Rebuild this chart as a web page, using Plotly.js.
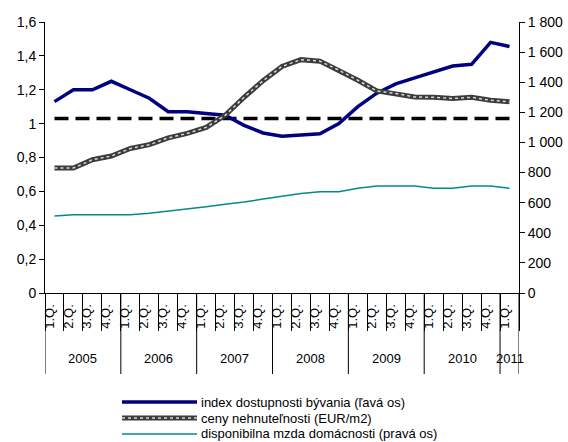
<!DOCTYPE html>
<html>
<head>
<meta charset="utf-8">
<script src="https://cdn.plot.ly/plotly-3.0.1.min.js"></script>
<style>html,body{margin:0;padding:0;background:#fff;}#chart{width:568px;height:442px;}</style>
</head>
<body>
<div id="chart"></div>
<script>
const years = ["2005","2005","2005","2005","2006","2006","2006","2006","2007","2007","2007","2007","2008","2008","2008","2008","2009","2009","2009","2009","2010","2010","2010","2010","2011"];
const quarters = ["1.Q.","2.Q.","3.Q.","4.Q.","1.Q.","2.Q.","3.Q.","4.Q.","1.Q.","2.Q.","3.Q.","4.Q.","1.Q.","2.Q.","3.Q.","4.Q.","1.Q.","2.Q.","3.Q.","4.Q.","1.Q.","2.Q.","3.Q.","4.Q.","1.Q."];
const affordabilityIndex = [1.13,1.20,1.20,1.25,1.20,1.15,1.07,1.07,1.06,1.05,0.99,0.945,0.925,0.93,0.94,1.00,1.10,1.18,1.235,1.27,1.305,1.34,1.35,1.48,1.455];
const referenceLevel = [1.03,1.03,1.03,1.03,1.03,1.03,1.03,1.03,1.03,1.03,1.03,1.03,1.03,1.03,1.03,1.03,1.03,1.03,1.03,1.03,1.03,1.03,1.03,1.03,1.03];
const propertyPrices = [830,830,885,910,960,985,1030,1060,1100,1180,1300,1410,1505,1550,1540,1480,1413,1342,1325,1302,1300,1292,1300,1280,1270];
const disposableWage = [511,520,520,520,520,530,544,555,573,590,604,624,644,661,672,672,695,710,710,710,695,695,710,710,695];
const names = ["index dostupnosti bývania (ľavá os)","ceny nehnuteľnosti (EUR/m2)","disponibilna mzda domácnosti (pravá os)"];

const xi = quarters.map((q, i) => i);
const n = quarters.length;

// group boundaries and centres from the years array
const boundaries = [-0.5];
const groups = [];
let start = 0;
for (let i = 1; i <= n; i++) {
  if (i === n || years[i] !== years[i - 1]) {
    groups.push({label: years[start], centre: (start + i - 1) / 2});
    boundaries.push(i - 0.5);
    start = i;
  }
}
const quarterBounds = xi.map(i => i - 0.5).concat([n - 0.5]);

const traces = [
  {x: xi, y: referenceLevel, type: "scatter", mode: "lines", showlegend: false, hoverinfo: "skip",
   line: {color: "#000000", width: 3.5, dash: "14px,7px"}, yaxis: "y"},
  {x: xi, y: propertyPrices, type: "scatter", mode: "lines", name: names[1], yaxis: "y2",
   line: {color: "#3c3c3c", width: 5}},
  {x: xi, y: propertyPrices, type: "scatter", mode: "lines", showlegend: false, hoverinfo: "skip", yaxis: "y2",
   line: {color: "#d8d8d8", width: 1.5, dash: "dot"}},
  {x: xi, y: disposableWage, type: "scatter", mode: "lines", name: names[2], yaxis: "y2",
   line: {color: "#008B8B", width: 1.5}},
  {x: xi, y: affordabilityIndex, type: "scatter", mode: "lines", name: names[0], yaxis: "y",
   line: {color: "#000080", width: 3.5}}
];

// layout helpers (pixel -> paper)
const plotTop = 22, plotBottom = 293, plotLeft = 45, plotRight = 519;
const py = p => (plotBottom - p) / (plotBottom - plotTop);
const px = p => (p - plotLeft) / (plotRight - plotLeft);

const shapes = boundaries.map(b => ({type: "line", xref: "x", yref: "paper", x0: b, x1: b,
  y0: 0, y1: py(374), line: {color: "#000", width: 1}}));

const annotations = groups.map(g => ({xref: "x", yref: "paper", x: g.centre, y: py(358),
  text: g.label, showarrow: false, xanchor: "center", yanchor: "middle", font: {size: 13, color: "#000"}}));

// manual legend
const legendRows = [
  {name: names[0], y: 402, lines: [{color: "#000080", width: 3.5}]},
  {name: names[1], y: 418, lines: [{color: "#3c3c3c", width: 5}, {color: "#d8d8d8", width: 1.5, dash: "dot"}]},
  {name: names[2], y: 434, lines: [{color: "#008B8B", width: 1.5}]}
];
legendRows.forEach(r => {
  r.lines.forEach(l => shapes.push({type: "line", xref: "paper", yref: "paper",
    x0: px(122), x1: px(197), y0: py(r.y), y1: py(r.y), line: l}));
  annotations.push({xref: "paper", yref: "paper", x: px(199), y: py(r.y), text: r.name,
    showarrow: false, xanchor: "left", yanchor: "middle", font: {size: 13, color: "#000"}});
});

const layout = {
  width: 568, height: 442,
  margin: {l: plotLeft, r: 568 - plotRight, t: plotTop, b: 442 - plotBottom},
  paper_bgcolor: "#ffffff", plot_bgcolor: "#ffffff",
  separators: ", ",
  font: {family: "Liberation Sans, Arial, sans-serif", color: "#000000", size: 12},
  showlegend: false,
  xaxis: {type: "linear", range: [-0.5, n - 0.5], showline: true, linecolor: "#000", linewidth: 1,
    tickmode: "array", tickvals: xi.map(i => i - 0.27), ticktext: quarters,
    ticks: "", tickangle: -90, ticklabelstandoff: 5,
    minor: {tickmode: "array", tickvals: quarterBounds, ticks: "outside", ticklen: 37, tickcolor: "#000", tickwidth: 1, showgrid: false},
    tickfont: {size: 13}, showgrid: false, zeroline: false, automargin: false, fixedrange: true},
  yaxis: {range: [0, 1.6], dtick: 0.2, showline: true, linecolor: "#000", linewidth: 1,
    ticks: "outside", ticklen: 5, tickcolor: "#000", showgrid: false, zeroline: false,
    tickfont: {size: 14}, automargin: false},
  yaxis2: {range: [0, 1800], dtick: 200, overlaying: "y", side: "right", showline: true,
    linecolor: "#000", linewidth: 1, ticks: "outside", ticklen: 5, tickcolor: "#000",
    showgrid: false, zeroline: false, separatethousands: true, tickfont: {size: 14}, automargin: false},
  shapes: shapes,
  annotations: annotations
};

Plotly.newPlot("chart", traces, layout, {displayModeBar: false, staticPlot: true});
</script>
</body>
</html>
